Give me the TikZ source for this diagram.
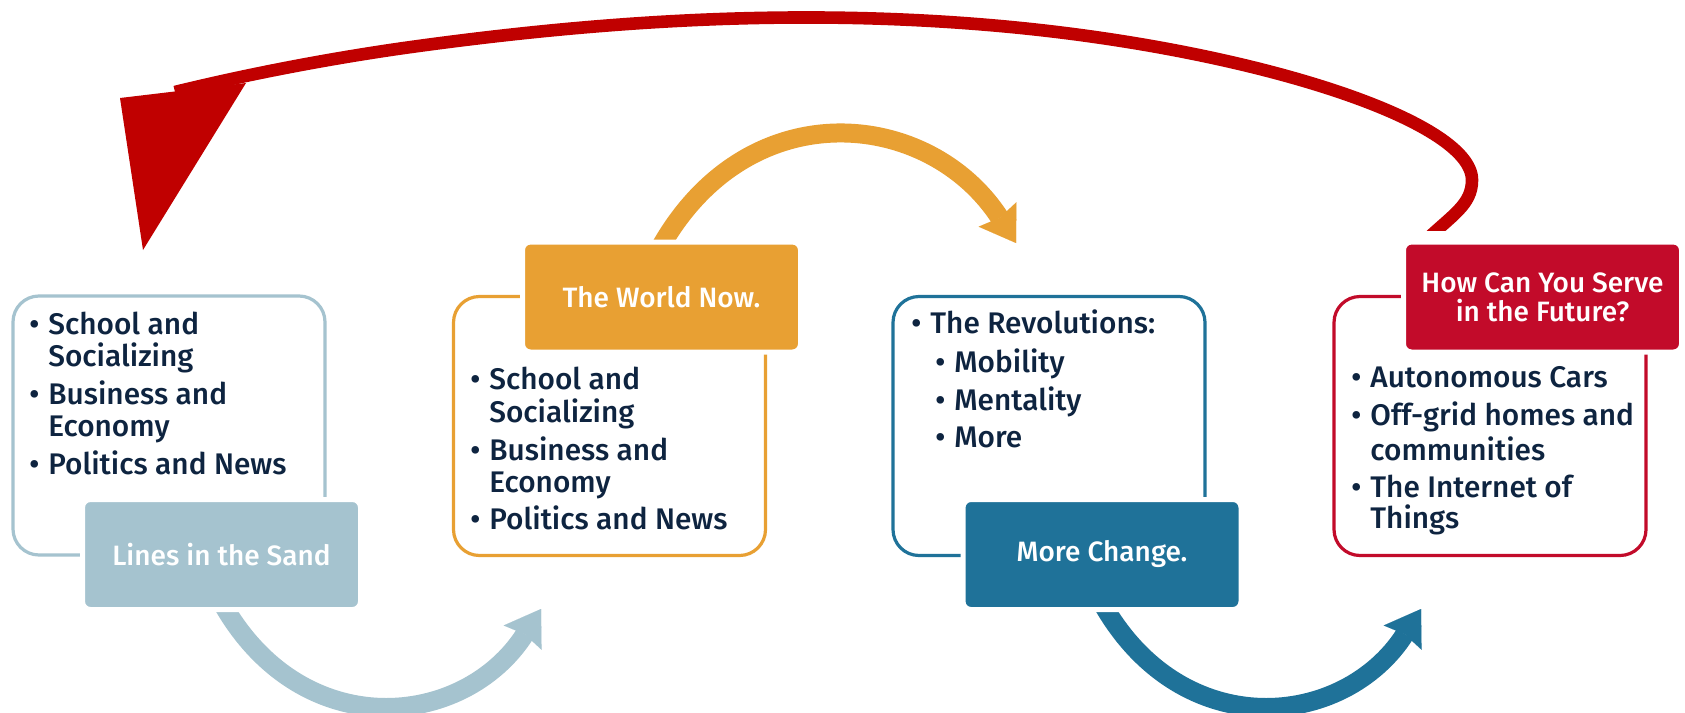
\documentclass[tikz,border=0pt]{standalone}
\usepackage{fontspec}
\IfFontExistsTF{Fira Sans Medium}{\setmainfont{Fira Sans Medium}}{\setmainfont{Fira Sans}}
\usetikzlibrary{arrows.meta}
\definecolor{cLight}{HTML}{A5C3CF}
\definecolor{cOrange}{HTML}{E8A033}
\definecolor{cDark}{HTML}{1F7299}
\definecolor{cCrimson}{HTML}{C20B2A}
\definecolor{cRed}{HTML}{C00000}
\definecolor{cText}{HTML}{0E2440}
\newcommand{\bul}{\llap{\textbullet\hspace{4.5pt}}}
\begin{document}
\begin{tikzpicture}[x=0.5pt,y=-0.5pt,
  outbox/.style={draw=#1, line width=1.6pt, rounded corners=13pt, minimum width=156pt, minimum height=129.5pt, inner sep=0pt},
  tagbox/.style={fill=#1, draw=white, line width=2.5pt, rounded corners=4pt, minimum width=139pt, minimum height=55pt, inner sep=0pt, text=white, font=\fontsize{14}{14.5}\selectfont, align=center},
  shaft/.style={draw=#1, line width=9.5pt, -{Stealth[length=17pt,width=22.5pt,inset=2pt,line width=0.01pt]}},
  txt/.style={anchor=base west, inner sep=0pt, text=cText, font=\fontsize{14.9}{16}\selectfont}]
\path[use as bounding box, fill=white] (0,0) rectangle (1685,712);

% connector end points
\coordinate (a1s) at (222,603); \coordinate (a1e) at (541,609);
\coordinate (a2s) at (661,246); \coordinate (a2e) at (1016,243);
\coordinate (a3s) at (1102,603); \coordinate (a3e) at (1421,609);
\coordinate (r0) at (1424,242); \coordinate (r1) at (1472,180);
\coordinate (r2) at (1000,26); \coordinate (r3) at (404,48);
\coordinate (r4) at (175,92);
\coordinate (rh1) at (120,98); \coordinate (rh2) at (246,83); \coordinate (rh3) at (143,250);

% curved arrows
\draw[shaft=cLight] (a1s) .. controls (302,745) and (464,729) .. (a1e);
\draw[shaft=cOrange] (a2s) .. controls (750,90) and (930,110) .. (a2e);
\draw[shaft=cDark] (a3s) .. controls (1182,745) and (1344,729) .. (a3e);
\begin{scope}
  \clip (0,0) rectangle (1685,230);
  \draw[cRed, line width=6.3pt] (r0) .. controls (1452,215) and (1472,205) .. (r1)
     .. controls (1472,120) and (1250,48.5) .. (r2)
     .. controls (800,8) and (604,20) .. (r3)
     .. controls (334,58) and (255,72.5) .. (r4);
\end{scope}
\fill[cRed] (rh1) -- (rh2) -- (rh3) -- cycle;

% outline boxes
\node[outbox=cLight] (box1) at (169,425.5) {};
\node[outbox=cOrange] (box2) at (609.5,426) {};
\node[outbox=cDark] (box3) at (1049,426) {};
\node[outbox=cCrimson] (box4) at (1490,426) {};

% title tags
\node[tagbox=cLight] (tag1) at (221.5,554.5) {Lines in the Sand};
\node[tagbox=cOrange] (tag2) at (661.5,297) {The World Now.};
\node[tagbox=cDark] (tag3) at (1102,554.5) {More Change.};
\node[tagbox=cCrimson] (tag4) at (1542.5,297) {How Can You Serve\\in the Future?};

% box 1 text
\node[txt] (t1a) at (48,334) {\bul School and};
\node[txt] (t1b) at (48,366) {Socializing};
\node[txt] (t1c) at (48,404) {\bul Business and};
\node[txt] (t1d) at (48,436) {Economy};
\node[txt] (t1e) at (48,474) {\bul Politics and News};
% box 2 text
\node[txt] (t2a) at (489,389) {\bul School and};
\node[txt] (t2b) at (489,422) {Socializing};
\node[txt] (t2c) at (489,460) {\bul Business and};
\node[txt] (t2d) at (489,492) {Economy};
\node[txt] (t2e) at (489,529) {\bul Politics and News};
% box 3 text
\node[txt] (t3a) at (930,333) {\bul The Revolutions:};
\node[txt] (t3b) at (954,372) {\bul Mobility};
\node[txt] (t3c) at (954,410) {\bul Mentality};
\node[txt] (t3d) at (954,447) {\bul More};
% box 4 text
\node[txt] (t4a) at (1370,387) {\bul Autonomous Cars};
\node[txt] (t4b) at (1370,425) {\bul Off-grid homes and};
\node[txt] (t4c) at (1370,460) {communities};
\node[txt] (t4d) at (1370,497) {\bul The Internet of};
\node[txt] (t4e) at (1370,528) {Things};
\end{tikzpicture}
\end{document}
